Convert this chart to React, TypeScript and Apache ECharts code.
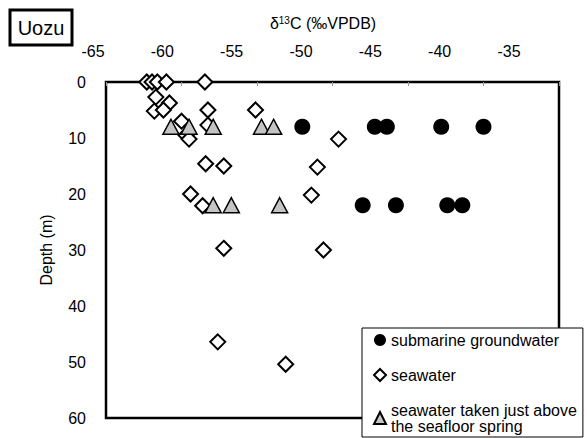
import React, { useEffect, useRef } from "react";
import * as echarts from "echarts";

// δ13C (‰VPDB) and depth (m)
const groundwaterC = [-52.0, -47.2, -46.4, -42.8, -40.0, -48.0, -45.8, -42.4, -41.4];
const groundwaterDepth = [8, 8, 8, 8, 8, 22, 22, 22, 22];

const seawaterC = [
  -62.3, -61.95, -61.6, -61.0, -58.45,
  -61.7, -60.8, -61.8, -61.2, -58.25, -55.1,
  -60.0, -58.25, -59.7, -59.5, -49.6,
  -58.4, -57.2, -51.0, -59.4, -51.4, -58.6,
  -57.2, -50.6, -57.6, -53.1,
];
const seawaterDepth = [
  0, 0, 0, 0, 0,
  2.7, 3.75, 5.2, 5.0, 5.0, 5.0,
  7.0, 7.7, 9.5, 10.2, 10.2,
  14.6, 15.0, 15.2, 20.0, 20.2, 22.1,
  29.7, 30.0, 46.4, 50.4,
];

const springC = [-60.7, -59.5, -57.9, -54.7, -53.9, -57.9, -56.7, -53.5];
const springDepth = [8, 8, 8, 8, 8, 22, 22, 22];

const xTicks = [-65, -60, -55, -50, -45, -40, -35];
const depthTicks = [0, 10, 20, 30, 40, 50, 60];

const seriesNames = [
  "submarine groundwater",
  "seawater",
  "seawater taken just above\nthe seafloor spring",
];

const FONT = "'Liberation Sans', Arial, sans-serif";

const pairs = (xs: number[], ys: number[]) => xs.map((x, i) => [x, ys[i]]);

export default function App() {
  const ref = useRef<HTMLDivElement>(null);
  useEffect(() => {
    if (!ref.current) return;
    const chart = echarts.init(ref.current, null, { renderer: "svg" });
    chart.setOption({
      animation: false,
      backgroundColor: "#ffffff",
      textStyle: { fontFamily: FONT },
      grid: [
        {
          left: 106,
          right: 28,
          top: 82,
          bottom: 20,
          show: true,
          borderColor: "#000",
          borderWidth: 2.5,
          backgroundColor: "transparent",
        },
        { left: 93, width: 416, top: 82, bottom: 20, show: false },
      ],
      xAxis: [
        {
          type: "value",
          gridIndex: 0,
          position: "top",
          min: xTicks[0],
          max: xTicks[xTicks.length - 1],
          interval: 5,
          axisLine: { show: false },
          axisTick: { show: true, inside: true, length: 4, lineStyle: { color: "#999", width: 1 } },
          axisLabel: { show: false },
          splitLine: { show: false },
        },
        {
          type: "value",
          gridIndex: 1,
          position: "top",
          min: xTicks[0],
          max: xTicks[xTicks.length - 1],
          interval: 5,
          axisLine: { show: false },
          axisTick: { show: false },
          splitLine: { show: false },
          axisLabel: { show: true, margin: 23, fontSize: 16, color: "#000", fontFamily: FONT },
        },
      ],
      yAxis: [
        {
          type: "value",
          gridIndex: 0,
          inverse: true,
          min: depthTicks[0],
          max: depthTicks[depthTicks.length - 1],
          interval: 10,
          axisLine: { show: false },
          axisTick: { show: false },
          splitLine: { show: false },
          axisLabel: { margin: 20, fontSize: 16, color: "#000", fontFamily: FONT },
          name: "Depth (m)",
          nameLocation: "middle",
          nameRotate: 90,
          nameGap: 52,
          nameTextStyle: { fontSize: 16, color: "#000", fontFamily: FONT },
        },
        { type: "value", gridIndex: 1, show: false, min: 0, max: 60 },
      ],
      legend: {
        orient: "vertical",
        left: 362,
        top: 328,
        height: 200,
        data: seriesNames,
        selectedMode: false,
        itemWidth: 12,
        itemHeight: 12,
        itemGap: 19,
        padding: [4, 6, 3, 11],
        backgroundColor: "#fff",
        borderColor: "#000",
        borderWidth: 1,
        borderRadius: 0,
        textStyle: { fontSize: 16, color: "#000", fontFamily: FONT, lineHeight: 16 },
        z: 10,
      },
      graphic: [
        {
          type: "rect",
          shape: { x: 10, y: 10, width: 62, height: 35 },
          style: { fill: "#fff", stroke: "#000", lineWidth: 3 },
        },
        {
          type: "text",
          x: 41,
          y: 28,
          style: {
            text: "Uozu",
            fontSize: 20,
            fontFamily: FONT,
            fill: "#000",
            align: "center",
            verticalAlign: "middle",
          },
        },
        {
          type: "text",
          x: 323,
          y: 23,
          style: {
            text: "δ{sup|13}C (‰VPDB)",
            fontSize: 16,
            fontFamily: FONT,
            fill: "#000",
            align: "center",
            verticalAlign: "middle",
            rich: {
              sup: { fontSize: 10, fontFamily: FONT, fill: "#000", verticalAlign: "top", padding: [0, 0, 6, 0] },
            },
          },
        },
      ],
      series: [
        {
          name: seriesNames[1],
          type: "scatter",
          xAxisIndex: 0,
          yAxisIndex: 0,
          symbol: "diamond",
          symbolSize: 15,
          itemStyle: { color: "#fff", borderColor: "#000", borderWidth: 2, opacity: 1 },
          data: pairs(seawaterC, seawaterDepth),
          z: 3,
        },
        {
          name: seriesNames[2],
          type: "scatter",
          xAxisIndex: 0,
          yAxisIndex: 0,
          symbol: "triangle",
          symbolSize: [16, 15],
          itemStyle: { color: "#c4c4c4", borderColor: "#000", borderWidth: 1.5, opacity: 1 },
          data: pairs(springC, springDepth),
          z: 4,
        },
        {
          name: seriesNames[0],
          type: "scatter",
          xAxisIndex: 0,
          yAxisIndex: 0,
          symbol: "circle",
          symbolSize: 16,
          itemStyle: { color: "#000", opacity: 1 },
          data: pairs(groundwaterC, groundwaterDepth),
          z: 5,
        },
      ],
    });
    return () => chart.dispose();
  }, []);
  return (
    <div
      ref={ref}
      style={{ position: "fixed", left: 0, top: 0, width: 587, height: 438, background: "#fff" }}
    />
  );
}
